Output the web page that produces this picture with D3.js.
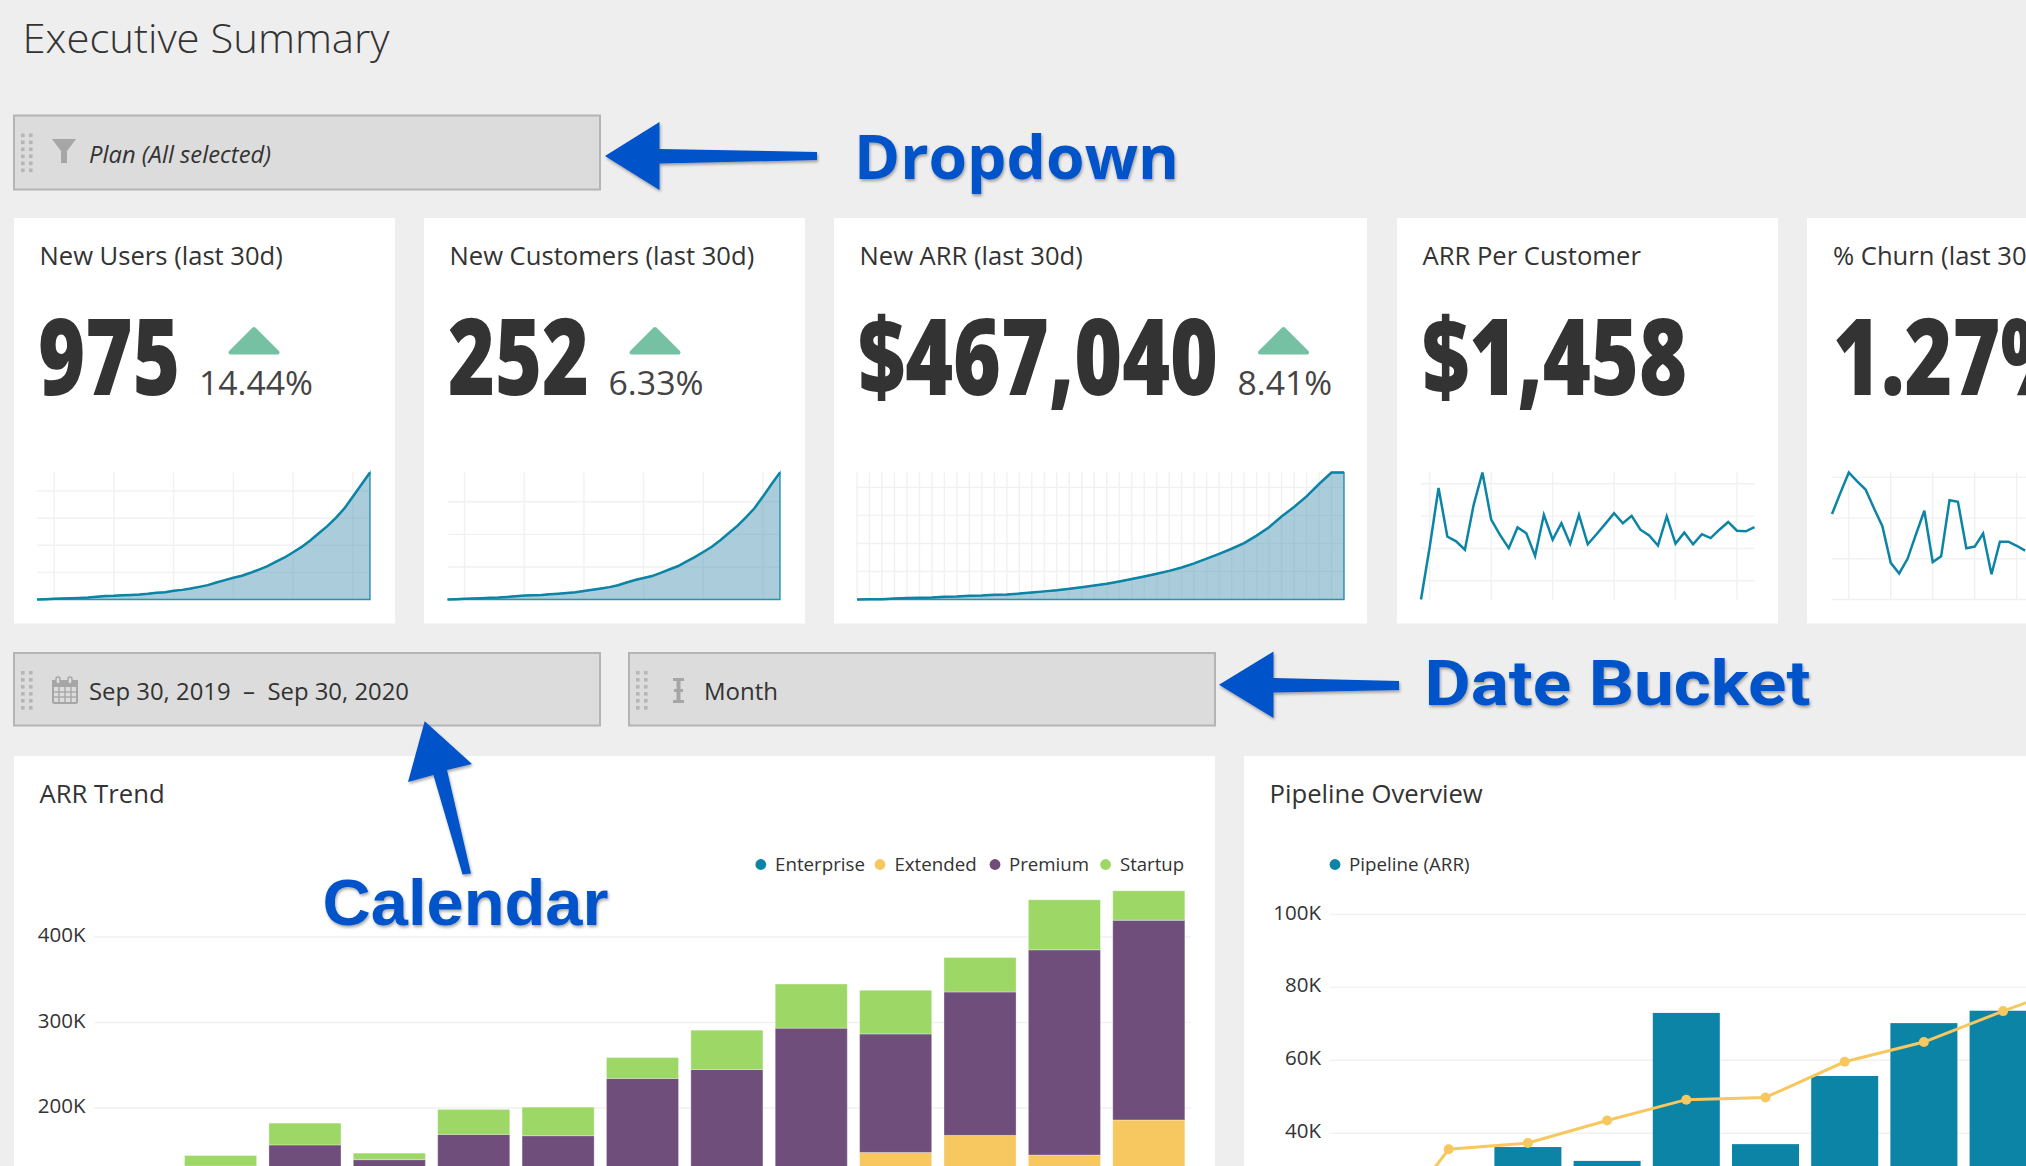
<!DOCTYPE html>
<html><head><meta charset="utf-8">
<script src="https://cdn.jsdelivr.net/npm/d3@7/dist/d3.min.js"></script>
<style>
html,body{margin:0;padding:0;background:#eeeeee;overflow:hidden}
svg{display:block}
text{font-family:"Open Sans",sans-serif;fill:#333}
.grid{stroke:#f1f1f1;stroke-width:1.4;fill:none}
</style></head><body>
<svg id="c" width="2026" height="1166"></svg>
<script>
// ---------- data ----------
const pageTitle = "Executive Summary";
const months = ["Sep 19","Oct 19","Nov 19","Dec 19","Jan 20","Feb 20","Mar 20","Apr 20","May 20","Jun 20","Jul 20","Aug 20","Sep 20"];
const arrSeries = ["Enterprise","Extended","Premium","Startup"];
const arrEnterprise = [30000,36000,40000,40000,44000,46000,50000,54000,58000,60000,64000,68000,72000];
const arrExtended   = [30000,44000,50000,55000,56000,54000,55000,56000,62000,88000,104000,77000,114000];
const arrPremium    = [30000,52000,66800,44600,69100,67600,129600,135000,173400,138600,167700,240000,233600];
const arrStartup    = [10000,12400,25500,7600,29200,33400,24400,46000,51600,51100,40300,58500,34400];
const arrTicks = [100000,200000,300000,400000];

const pipeMonths = months.slice(0,10);
const pipeBars = [8000,24000,36200,32400,73000,37000,55700,70200,73600,78000];
const pipeLine = [7000,35600,37300,43500,49200,49800,59600,65000,73500,81400];
const pipeTicks = [20000,40000,60000,80000,100000];

const usersSpark = [0,2,5,7,9,12,15,20,25,27,31,34,37,42,49,54,64,71,81,93,106,125,143,160,175,197,221,246,280,310,349,388,435,489,541,603,672,760,849,937];
const customersSpark = [0,0.5,1,1.5,2,2.5,3,4,5,6,6.5,7,8,9,10,11,13,15,17,19,22,26,30,33,36,41,46,51,58,65,73,81,91,102,113,126,140,158,177,195];
const arrSpark = [0,0.6,1,4,5,6,7,10,11,13,14,17,18,21,25,29,33,38,44,50,56,64,73,82,92,102,114,129,146,163,181,201,228,258,296,330,368,412,453,453];
const perCustomerSpark = [1242,1406,1587,1437,1422,1396,1535,1635,1489,1442,1401,1465,1447,1377,1504,1427,1478,1414,1504,1413,1444,1476,1509,1478,1501,1458,1440,1409,1499,1415,1449,1413,1444,1432,1458,1482,1455,1453,1466];
const churnSpark = [1.05,1.31,1.56,1.45,1.35,1.12,0.90,0.45,0.32,0.50,0.80,1.09,0.46,0.53,1.22,1.20,0.63,0.65,0.81,0.31,0.71,0.71,0.66,0.60];

const kpiTitles = ["New Users (last 30d)","New Customers (last 30d)","New ARR (last 30d)","ARR Per Customer","% Churn (last 30d)"];
const kpiValues = ["975","252","$467,040","$1,458","1.27%"];
const kpiDeltas = ["14.44%","6.33%","8.41%",null,null];

// ---------- layout ----------
const TEAL="#0b84a5", YEL="#f6c85f", PUR="#6f4e7c", GRN="#9dd866", BLUE="#0552c8", ICON="#a6a6a6";
const svg = d3.select("#c");
const defs = svg.append("defs");
const f = defs.append("filter").attr("id","sh").attr("x","-10%").attr("y","-10%").attr("width","120%").attr("height","130%");
f.append("feDropShadow").attr("dx",1).attr("dy",2).attr("stdDeviation",1.6).attr("flood-color","#000").attr("flood-opacity",.35);

svg.append("text").attr("x",22.5).attr("y",53).attr("font-size",41).attr("font-weight",300)
   .attr("textLength",367).attr("lengthAdjust","spacingAndGlyphs").text(pageTitle);

function filterBox(x,y,h){
  svg.append("rect").attr("x",x+1).attr("y",y+1).attr("width",586).attr("height",h)
     .attr("fill","#dcdcdc").attr("stroke","#b4b4b4").attr("stroke-width",2);
  for(let c=0;c<2;c++)for(let r=0;r<6;r++)
    svg.append("rect").attr("x",x+8+c*8).attr("y",y+19+r*7).attr("width",3.6).attr("height",3.6).attr("fill","#b6b6b6");
}
filterBox(13,114.5,74); filterBox(13,652,72.5); filterBox(628,652,72.5);

// funnel
svg.append("path").attr("d","M52 139H76L67 151V163H61V151Z").attr("fill",ICON);
svg.append("text").attr("x",89).attr("y",163).attr("font-size",23.5).attr("font-style","italic")
   .attr("textLength",182).attr("lengthAdjust","spacingAndGlyphs").text("Plan (All selected)");
// calendar
const cal = svg.append("g").attr("fill","none").attr("stroke",ICON).attr("stroke-width",1.4);
cal.append("rect").attr("x",53).attr("y",681).attr("width",24).attr("height",22).attr("rx",1.5).attr("stroke-width",2);
cal.append("rect").attr("x",52).attr("y",680).attr("width",26).attr("height",7).attr("fill",ICON).attr("stroke","none");
[59,65,71].forEach(x=>cal.append("line").attr("x1",x).attr("x2",x).attr("y1",687).attr("y2",703));
[692,697].forEach(y=>cal.append("line").attr("x1",53).attr("x2",77).attr("y1",y).attr("y2",y));
[58,70].forEach(x=>cal.append("rect").attr("x",x-2).attr("y",677).attr("width",4).attr("height",7).attr("rx",2).attr("fill","#dcdcdc").attr("stroke",ICON).attr("stroke-width",1.4));
svg.append("text").attr("x",89).attr("y",700).attr("font-size",24)
   .attr("textLength",320).attr("lengthAdjust","spacingAndGlyphs").style("white-space","pre").text("Sep 30, 2019  \u2013  Sep 30, 2020");
// text cursor icon
svg.append("path").attr("d","M673 678H684V681H680.5V689H683V692H680.5V700H684V703H673V700H676.5V692H674V689H676.5V681H673Z").attr("fill",ICON);
svg.append("text").attr("x",704).attr("y",700).attr("font-size",24).text("Month");

// cards
const card=(x,y,w,h)=>svg.append("rect").attr("x",x).attr("y",y).attr("width",w).attr("height",h).attr("fill","#fff");
const cards=[{x:14,w:381,vx:38,vw:142,tx:39.5,dx:199,dw:114,tri:254,s:37,e:370},
 {x:424,w:381,vx:448,vw:141,tx:449.5,dx:608.5,dw:95,tri:655,s:447.5,e:780},
 {x:834,w:533,vx:858,vw:360,tx:859.5,dx:1237.6,dw:94.5,tri:1283.5,s:857,e:1344},
 {x:1397,w:381,vx:1422,vw:265,tx:1422.5,s:1421,e:1754.5},
 {x:1807,w:300,vx:1833,vw:245,tx:1833,s:1832,e:2151}];
cards.forEach((c,i)=>{
  card(c.x,218,c.w,405.5);
  svg.append("text").attr("x",c.tx).attr("y",265).attr("font-size",25.6).text(kpiTitles[i]);
  svg.append("text").attr("x",c.vx).attr("y",395).attr("font-size",106).attr("font-weight",800)
     .attr("textLength",c.vw).attr("lengthAdjust","spacingAndGlyphs").text(kpiValues[i]);
  if(kpiDeltas[i]){
    svg.append("text").attr("x",c.dx).attr("y",395).attr("font-size",32.5).attr("font-weight",400).style("fill","#444")
       .attr("textLength",c.dw).attr("lengthAdjust","spacingAndGlyphs").text(kpiDeltas[i]);
    svg.append("path").attr("transform",`translate(${c.tri},0)`)
       .attr("d","M0 329 L23.5 352.5 L-23.5 352.5 Z")
       .attr("fill","#76c0a3").attr("stroke","#76c0a3").attr("stroke-width",4).attr("stroke-linejoin","round");
  }
});

// sparklines
function spark(ci,vals,n,domain,hticks,vstart,vstep,area){
  const c=cards[ci];
  const x=d3.scaleLinear().domain([0,n-1]).range([c.s,c.e]);
  const y=d3.scaleLinear().domain(domain).range([599.5,472.5]);
  const g=svg.append("g");
  hticks.forEach(t=>g.append("line").attr("class","grid").attr("x1",c.s).attr("x2",Math.min(c.e,2026)).attr("y1",y(t)).attr("y2",y(t)));
  for(let i=vstart;i<n;i+=vstep) g.append("line").attr("class","grid").attr("x1",x(i)).attr("x2",x(i)).attr("y1",472.5).attr("y2",599.5);
  const idx=vals.map((v,i)=>[i,v]);
  if(area){
    g.append("path").datum(idx).attr("fill","#5599b7").attr("fill-opacity",.5).attr("stroke",TEAL).attr("stroke-opacity",.85).attr("stroke-width",1.4)
     .attr("d",d3.area().x(d=>x(d[0])).y0(y(domain[0])).y1(d=>y(d[1])));
  }
  g.append("path").datum(idx).attr("fill","none").attr("stroke",TEAL).attr("stroke-width",2.5)
   .attr("d",d3.line().x(d=>x(d[0])).y(d=>y(d[1])));
}
spark(0,usersSpark,40,[0,937],[200,400,600,800],2,7,true);
spark(1,customersSpark,40,[0,195],[50,100,150],2,7,true);
spark(2,arrSpark,40,[0,453],[100,200,300,400],0,1,true);
spark(3,perCustomerSpark,39,[1242,1635],[1300,1400,1500,1600],1,7,false);
spark(4,churnSpark,39,[0,1.56],[0,0.5,1,1.5],2,5,false);

// ARR Trend
card(14,756,1201,410);
svg.append("text").attr("x",39.5).attr("y",803).attr("font-size",25.7).text("ARR Trend");
const ax=d3.scaleBand().domain(months).range([94,1191]).paddingInner(.146).paddingOuter(.073);
const ay=d3.scaleLinear().domain([0,400000]).range([1279,937]);
const arrTable=months.map((m,i)=>({m,Enterprise:arrEnterprise[i],Extended:arrExtended[i],Premium:arrPremium[i],Startup:arrStartup[i]}));
const arrColor=d3.scaleOrdinal().domain(arrSeries).range([TEAL,YEL,PUR,GRN]);
const fmtK=d=>(d/1000)+"K";
const gAx=svg.append("g").attr("transform","translate(94,0)")
  .call(d3.axisLeft(ay).tickValues(arrTicks).tickFormat(fmtK).tickSize(0).tickPadding(8.5));
gAx.select(".domain").remove();
gAx.selectAll("text").attr("font-size",20.5).attr("font-family",'"Open Sans"').attr("fill","#333").attr("dy","0.22em");
svg.append("g").selectAll("line").data(arrTicks).join("line").attr("class","grid")
   .attr("x1",94).attr("x2",1191).attr("y1",d=>ay(d)).attr("y2",d=>ay(d));
svg.append("g").selectAll("g").data(d3.stack().keys(arrSeries)(arrTable)).join("g")
   .attr("fill",d=>arrColor(d.key))
   .selectAll("rect").data(d=>d).join("rect")
   .attr("x",d=>ax(d.data.m)).attr("width",ax.bandwidth())
   .attr("y",d=>ay(d[1])).attr("height",d=>ay(d[0])-ay(d[1]))
   .attr("stroke","#fff").attr("stroke-opacity",.3).attr("stroke-width",1);
const legArr=[[760.8,775,90,"Enterprise",TEAL],[880,894.4,82.3,"Extended",YEL],[995,1009,80,"Premium",PUR],[1105.6,1120,64,"Startup",GRN]];
legArr.forEach(l=>{
  svg.append("circle").attr("cx",l[0]).attr("cy",864.5).attr("r",5.4).attr("fill",l[4]);
  svg.append("text").attr("x",l[1]).attr("y",870.5).attr("font-size",18).attr("textLength",l[2]).attr("lengthAdjust","spacingAndGlyphs").text(l[3]);
});

// Pipeline Overview
card(1244,756,782,410);
svg.append("text").attr("x",1269.5).attr("y",803).attr("font-size",25.7).text("Pipeline Overview");
const px=d3.scaleBand().domain(pipeMonths).range([1329.9,2121.9]).paddingInner(.154).paddingOuter(.077);
const py=d3.scaleLinear().domain([0,100000]).range([1279,914.5]);
const gPy=svg.append("g").attr("transform","translate(1329.5,0)")
  .call(d3.axisLeft(py).tickValues(pipeTicks).tickFormat(fmtK).tickSize(0).tickPadding(8.5));
gPy.select(".domain").remove();
gPy.selectAll("text").attr("font-size",20.5).attr("font-family",'"Open Sans"').attr("fill","#333").attr("dy","0.22em");
svg.append("g").selectAll("line").data(pipeTicks).join("line").attr("class","grid")
   .attr("x1",1329.5).attr("x2",2026).attr("y1",d=>py(d)).attr("y2",d=>py(d));
svg.append("g").selectAll("rect").data(pipeMonths).join("rect").attr("fill",TEAL)
   .attr("x",d=>px(d)).attr("width",px.bandwidth())
   .attr("y",(d,i)=>py(pipeBars[i])).attr("height",(d,i)=>py(0)-py(pipeBars[i]));
const lx=(d,i)=>px(pipeMonths[i])+px.bandwidth()/2;
svg.append("path").datum(pipeLine).attr("fill","none").attr("stroke",YEL).attr("stroke-width",3)
   .attr("d",d3.line().x(lx).y(d=>py(d)));
svg.append("g").selectAll("circle").data(pipeLine).join("circle").attr("fill",YEL).attr("r",5)
   .attr("cx",lx).attr("cy",d=>py(d));
svg.append("circle").attr("cx",1335).attr("cy",864.5).attr("r",5.4).attr("fill",TEAL);
svg.append("text").attr("x",1349).attr("y",870.5).attr("font-size",18).attr("textLength",120.5).attr("lengthAdjust","spacingAndGlyphs").text("Pipeline (ARR)");

// annotations
const ann=svg.append("g").attr("filter","url(#sh)");
const arrow=pts=>ann.append("polygon").attr("points",pts).attr("fill",BLUE);
arrow("605,156 659.5,122 659.5,149 817,152 817,160 659.5,163.5 659.5,190");
arrow("1219,684.7 1273.5,651.5 1273.5,678 1399,681 1399,690 1273.5,692.6 1273.5,718");
arrow("424.7,721.3 408,782 433.4,775 462.6,874.5 471,873.4 447,770 472,764");
const lab=(t,x,y,s,w,fam)=>ann.append("text").attr("x",x).attr("y",y).attr("font-size",s).attr("font-weight",700)
  .attr("textLength",w).attr("lengthAdjust","spacingAndGlyphs").style("font-family",fam).style("fill",BLUE).text(t);
lab("Dropdown",854,179,61,325,'"Open Sans"');
lab("Date Bucket",1424.5,705,63,386,'Roboto');
lab("Calendar",322.5,925,64,286,'"Liberation Sans"');
</script></body></html>
